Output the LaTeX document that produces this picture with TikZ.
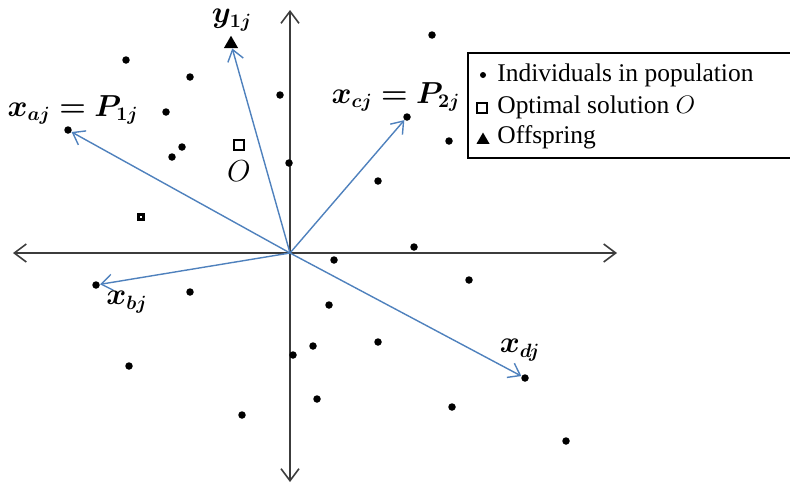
\documentclass[tikz,border=0pt]{standalone}
\usepackage{amsmath, amssymb, bm}
\usepackage{fontspec}
\setmainfont{Liberation Serif}
\usetikzlibrary{arrows.meta, shapes.geometric, positioning}
\definecolor{vecblue}{RGB}{79, 129, 189}
\definecolor{axisgray}{RGB}{60, 60, 60}

\begin{document}
\begin{tikzpicture}[x=0.02cm, y=-0.02cm,
    indiv/.style={circle, fill=black, inner sep=0pt, minimum size=0.15cm},
    optbox/.style={rectangle, draw=black, line width=1.3pt, fill=white, inner sep=0pt, minimum size=0.2cm},
    offspring/.style={regular polygon, regular polygon sides=3, fill=black, inner sep=0pt, minimum size=0.33cm},
    vec/.style={-{Straight Barb[length=2.2mm, width=3.2mm]}, vecblue, line width=0.8pt},
    axis/.style={{Straight Barb[length=2.4mm, width=3.6mm]}-{Straight Barb[length=2.4mm, width=3.6mm]}, axisgray, line width=0.9pt},
    lbl/.style={inner sep=1pt, font=\fontsize{16}{19}\selectfont},
    legtext/.style={anchor=west, inner sep=0pt, font=\fontsize{14.5}{17}\selectfont}]
  \useasboundingbox (0,0) rectangle (790,484);
  \clip (0,0) rectangle (790,484);

  % axes
  \coordinate (o) at (290,253);
  \coordinate (w) at (13,253);
  \coordinate (e) at (617,253);
  \coordinate (n) at (290,10);
  \coordinate (s) at (290,482);
  \draw[axis] (w) -- (e);
  \draw[axis] (n) -- (s);

  % population
  \foreach \px/\py [count=\i] in {126/60, 190/77, 166/112, 182/147, 172/157, 280/95, 289/163,
      432/35, 449/141, 378/181, 414/247, 334/260, 469/280, 190/292, 329/305, 378/342,
      313/346, 293/355, 129/366, 317/399, 452/407, 242/415, 566/441}
    \node[indiv] (p\i) at (\px,\py) {};
  \node[rectangle, draw=black, line width=1.5pt, inner sep=0pt, minimum size=0.1cm] (pq) at (141,217) {};

  % parents and offspring
  \node[indiv] (xa) at (68,130) {};
  \node[indiv] (xb) at (96,285) {};
  \node[indiv] (xc) at (407,117) {};
  \node[indiv] (xd) at (525,378) {};
  \node[offspring] (y1) at (231,44) {};
  \node[optbox] (opt) at (239,145) {};
  \node[lbl, below=0.15cm of opt] (optlbl) {$O$};

  \draw[vec] (o) -- (xa);
  \draw[vec] (o) -- (xb);
  \draw[vec] (o) -- (xc);
  \draw[vec] (o) -- (xd);
  \draw[vec] (o) -- (y1);

  \node[lbl] (xalbl) at (73,110) {$\boldsymbol{x_{aj}=P_{1j}}$};
  \node[lbl] (y1lbl) at (232,20) {$\boldsymbol{y_{1j}}$};
  \node[lbl] (xclbl) at (396,97) {$\boldsymbol{x_{cj}=P_{2j}}$};
  \node[lbl] (xblbl) at (127,302) {$\boldsymbol{x_{bj}}$};
  \node[lbl] (xdlbl) at (520,350) {$\boldsymbol{x_{dj}}$};

  % legend
  \draw[line width=1.3pt] (468,53) rectangle (800,158);
  \node[indiv, minimum size=0.12cm] (legdot) at (483,75) {};
  \node[optbox] (legbox) at (482,108) {};
  \node[offspring, minimum size=0.3cm] (legtri) at (483,140) {};
  \node[legtext] (legdottxt) at (497,75) {Individuals in population};
  \node[legtext] (legboxtxt) at (497,107) {Optimal solution $O$};
  \node[legtext] (legtritxt) at (497,137) {Offspring};
\end{tikzpicture}
\end{document}
